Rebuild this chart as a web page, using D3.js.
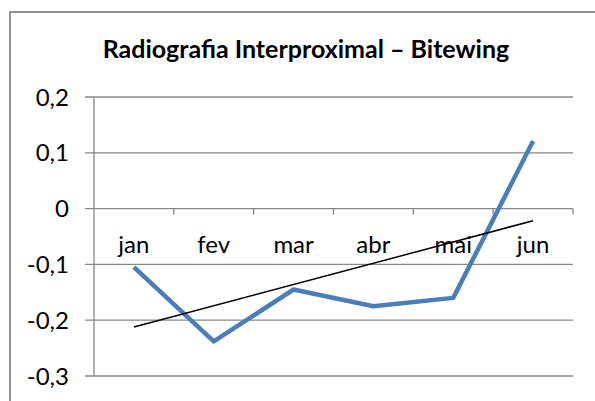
<!DOCTYPE html>
<html>
<head>
<meta charset="utf-8">
<script src="https://cdn.jsdelivr.net/npm/d3@7"></script>
<style>
  html, body { margin: 0; padding: 0; background: #fff; }
  svg { display: block; font-family: Lato, "Open Sans", sans-serif; }
</style>
</head>
<body>
<svg id="chart" width="595" height="401"></svg>
<script>
// Radiografia Interproximal – Bitewing, monthly values + linear trend
const months = ["jan", "fev", "mar", "abr", "mai", "jun"];
const values = [-0.105, -0.238, -0.145, -0.175, -0.160, 0.121];
const yTicks = [0.2, 0.1, 0, -0.1, -0.2, -0.3];
const title = "Radiografia Interproximal \u2013 Bitewing";

const svg = d3.select("#chart");
const grey = "#878787";

// chart area frame (cropped on the right and bottom, as in the source)
svg.append("rect")
  .attr("x", 10).attr("y", 12)
  .attr("width", 620).attr("height", 420)
  .attr("fill", "none")
  .attr("stroke", grey)
  .attr("stroke-width", 1.8);

const plot = { left: 94, right: 573, top: 97, bottom: 376 };

const x = d3.scaleBand()
  .domain(months)
  .range([plot.left, plot.right]);
const y = d3.scaleLinear()
  .domain([-0.3, 0.2])
  .range([plot.bottom, plot.top]);

// decimal comma, plain hyphen minus, bare "0"
const fmt = v => Math.abs(v) < 1e-9 ? "0" : v.toFixed(1).replace(".", ",");

// horizontal gridlines + y labels
const yAxis = svg.append("g");
yAxis.selectAll("line.grid")
  .data(yTicks)
  .join("line")
    .attr("class", "grid")
    .attr("x1", plot.left - 9)
    .attr("x2", plot.right)
    .attr("y1", d => y(d))
    .attr("y2", d => y(d))
    .attr("stroke", grey)
    .attr("stroke-width", 1.3);
yAxis.selectAll("text")
  .data(yTicks)
  .join("text")
    .attr("x", 69)
    .attr("y", d => y(d) + 8.5)
    .attr("text-anchor", "end")
    .attr("font-size", 24)
    .attr("fill", "#000")
    .text(fmt);

// vertical axis line
svg.append("line")
  .attr("x1", plot.left).attr("x2", plot.left)
  .attr("y1", plot.top).attr("y2", plot.bottom)
  .attr("stroke", grey)
  .attr("stroke-width", 1.3);

// category ticks on the zero line
const bounds = months.map(m => x(m) + x.bandwidth());
svg.append("g").selectAll("line")
  .data(bounds)
  .join("line")
    .attr("x1", d => d).attr("x2", d => d)
    .attr("y1", y(0)).attr("y2", y(0) + 6)
    .attr("stroke", grey)
    .attr("stroke-width", 1.3);

// category labels
svg.append("g").selectAll("text")
  .data(months)
  .join("text")
    .attr("x", d => x(d) + x.bandwidth() / 2)
    .attr("y", y(0) + 44)
    .attr("text-anchor", "middle")
    .attr("font-size", 24)
    .attr("fill", "#000")
    .text(d => d);

// series line
const cx = (d, i) => x(months[i]) + x.bandwidth() / 2;
svg.append("path")
  .datum(values)
  .attr("d", d3.line().x(cx).y(d => y(d)))
  .attr("fill", "none")
  .attr("stroke", "#4a7ebb")
  .attr("stroke-width", 4.5)
  .attr("stroke-linejoin", "round");

// linear trendline (least squares over the series)
const idx = values.map((_, i) => i + 1);
const mx = d3.mean(idx), my = d3.mean(values);
const slope = d3.sum(idx, (k, i) => (k - mx) * (values[i] - my)) / d3.sum(idx, k => (k - mx) ** 2);
const icpt = my - slope * mx;
const trend = [0, months.length - 1].map(i => ({ i, v: icpt + slope * (i + 1) }));
svg.append("path")
  .datum(trend)
  .attr("d", d3.line().x(d => cx(null, d.i)).y(d => y(d.v)))
  .attr("fill", "none")
  .attr("stroke", "#000")
  .attr("stroke-width", 1.5);

// title
svg.append("text")
  .attr("x", 306)
  .attr("y", 58)
  .attr("text-anchor", "middle")
  .attr("font-size", 25)
  .attr("font-weight", "bold")
  .attr("fill", "#000")
  .text(title);
</script>
</body>
</html>
